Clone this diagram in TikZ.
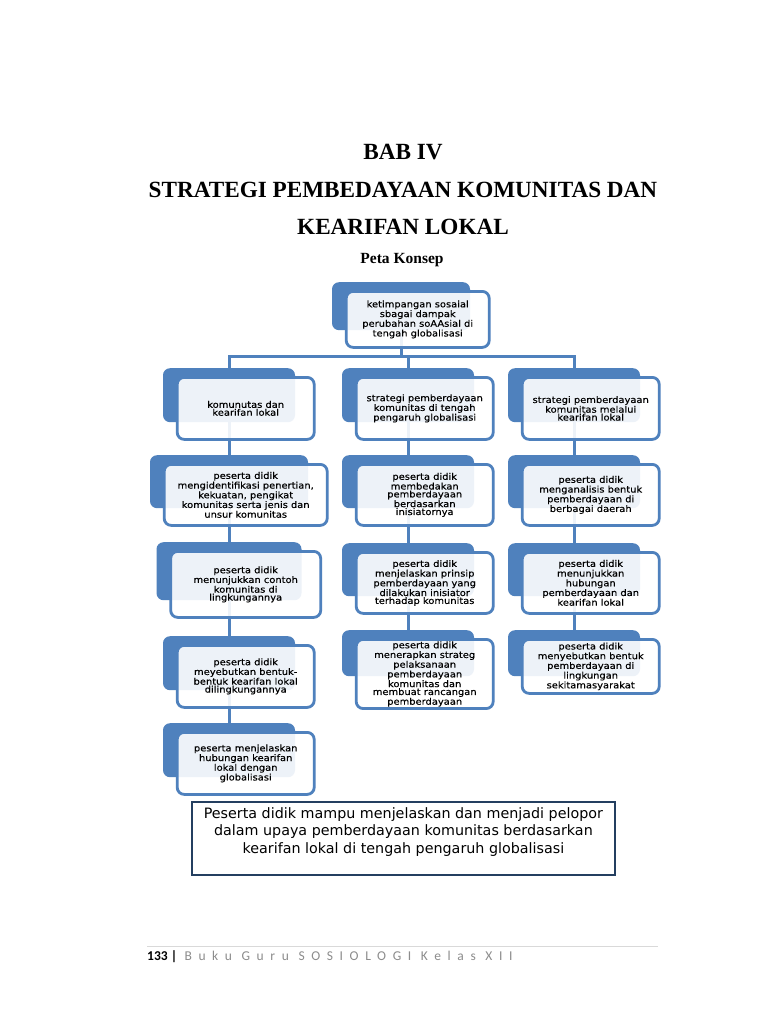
\documentclass[tikz,border=0pt]{standalone}
\usepackage{fontspec}
\setmainfont{Liberation Serif}
\newfontfamily\bxfont[FakeStretch=1.1,FakeBold=0.35]{DejaVu Sans}
\newfontfamily\goalfont{DejaVu Sans}
\newfontfamily\carlfont{Carlito}
\newfontfamily\carlspfont[LetterSpace=49]{Carlito}
\pgfdeclarelayer{background}
\pgfsetlayers{background,main}
\definecolor{bblue}{HTML}{4F81BD}
\definecolor{navy}{HTML}{243F60}
\definecolor{linegray}{HTML}{D9D9D9}
\definecolor{footgray}{HTML}{8C8C8C}
\tikzset{
  backbox/.style={rectangle, rounded corners=7pt, fill=bblue, draw=none},
  frontbox/.style={rectangle, rounded corners=7pt, draw=bblue, line width=2.8pt,
    fill=white, fill opacity=0.9, text opacity=1, draw opacity=1,
    align=center, inner sep=2pt, font=\bxfont\fontsize{9}{7.9}\selectfont},
  conn/.style={draw=bblue, line width=3pt},
  titlefont/.style={font=\bfseries\fontsize{23.2}{23.2}\selectfont},
}
\newcommand\conceptbox[6]{%
  \node[backbox, minimum width=#4pt, minimum height=#5pt, anchor=north] (#1b) at (#2,#3) {};
  \node[frontbox, minimum width=#4pt+5pt, minimum height=#5pt+8pt, anchor=north west] (#1) at ([shift={(13pt,-8pt)}]#1b.north west) {#6};
}
\begin{document}
\begin{tikzpicture}[x=1pt,y=-1pt]
\begin{pgfonlayer}{background}
\fill[white] (0,0) rectangle (768,1024);
\end{pgfonlayer}
\useasboundingbox (0,0) rectangle (768,1024);

% titles
\node[titlefont] (bab) at (403,152) {BAB IV};
\node[titlefont] (t1) at (403,190) {STRATEGI PEMBEDAYAAN KOMUNITAS DAN};
\node[titlefont] (t2) at (403,227) {KEARIFAN LOKAL};
\node[font=\bfseries\fontsize{15.5}{15.5}\selectfont] (pk) at (402,260) {Peta Konsep};

% boxes
\conceptbox{top}{401}{282}{138}{48}{ketimpangan sosaial\\ sbagai dampak\\ perubahan soAAsial di\\ tengah globalisasi}

\conceptbox{aL}{229}{368}{132}{54}{komunutas dan\\ kearifan lokal}
\conceptbox{aM}{408}{368}{132}{54}{strategi pemberdayaan\\ komunitas di tengah\\ pengaruh globalisasi}
\conceptbox{aR}{574}{368}{132}{54}{strategi pemberdayaan\\ komunitas melalui\\ kearifan lokal}

\conceptbox{bL}{229}{455}{158}{53}{peserta didik\\ mengidentifikasi penertian,\\ kekuatan, pengikat\\ komunitas serta jenis dan\\ unsur komunitas}
\conceptbox{bM}{408}{455}{132}{53}{peserta didik\\ membedakan\\ pemberdayaan\\ berdasarkan\\ inisiatornya}
\conceptbox{bR}{574}{455}{132}{53}{peserta didik\\ menganalisis bentuk\\ pemberdayaan di\\ berbagai daerah}

\conceptbox{cL}{229}{542}{145}{58}{peserta didik\\ menunjukkan contoh\\ komunitas di\\ lingkungannya}
\conceptbox{cM}{408}{543}{132}{53}{peserta didik\\ menjelaskan prinsip\\ pemberdayaan yang\\ dilakukan inisiator\\ terhadap komunitas}
\conceptbox{cR}{574}{543}{132}{53}{peserta didik\\ menunjukkan\\ hubungan\\ pemberdayaan dan\\ kearifan lokal}

\conceptbox{dL}{229}{636}{132}{54}{peserta didik\\ meyebutkan bentuk-\\ bentuk kearifan lokal\\ dilingkungannya}
\conceptbox{dM}{408}{630}{132}{46}{peserta didik\\ menerapkan strateg\\ pelaksanaan\\ pemberdayaan\\ komunitas dan\\ membuat rancangan\\ pemberdayaan}
\conceptbox{dR}{574}{630}{132}{46}{peserta didik\\ menyebutkan bentuk\\ pemberdayaan di\\ lingkungan\\ sekitamasyarakat}

\conceptbox{eL}{229}{723}{132}{54}{peserta menjelaskan\\ hubungan kearifan\\ lokal dengan\\ globalisasi}

% connectors
\coordinate (hub) at (401,356);
\begin{pgfonlayer}{background}
  \draw[conn] (topb.south) -- (hub);
  \draw[conn] (aLb.north) |- (hub) -| (aRb.north);
  \draw[conn] (hub) -| (aMb.north);
  \draw[conn] (aLb.south) -- (bLb.north);
  \draw[conn] (bLb.south) -- (cLb.north);
  \draw[conn] (cLb.south) -- (dLb.north);
  \draw[conn] (dLb.south) -- (eLb.north);
  \draw[conn] (aMb.south) -- (bMb.north);
  \draw[conn] (bMb.south) -- (cMb.north);
  \draw[conn] (cMb.south) -- (dMb.north);
  \draw[conn] (aRb.south) -- (bRb.north);
  \draw[conn] (bRb.south) -- (cRb.north);
  \draw[conn] (cRb.south) -- (dRb.north);
\end{pgfonlayer}

% goal box
\node[draw=navy, line width=1.8pt, minimum width=423pt, minimum height=73pt, anchor=north west] (goal) at (191,801) {};
\node[font=\goalfont\fontsize{14.3}{17.5}\selectfont, align=center, anchor=north] (goaltext) at ([yshift=-3pt]goal.north) {Peserta didik mampu menjelaskan dan menjadi pelopor\\ dalam upaya pemberdayaan komunitas berdasarkan\\ kearifan lokal di tengah pengaruh globalisasi};

% footer
\coordinate (fl) at (147,946);
\coordinate (fr) at (658,946);
\draw[linegray, line width=0.6pt] (fl) -- (fr);
\node[anchor=west, inner sep=0pt, font=\carlfont\bfseries\fontsize{13.5}{13.5}\selectfont] (pg) at (147,957) {133 |};
\node[anchor=base west, inner sep=0pt, text=footgray, font=\carlspfont\fontsize{13.5}{13.5}\selectfont] (bk) at ([xshift=7pt]pg.base east) {Buku Guru SOSIOLOGI Kelas XII};
\end{tikzpicture}
\end{document}
